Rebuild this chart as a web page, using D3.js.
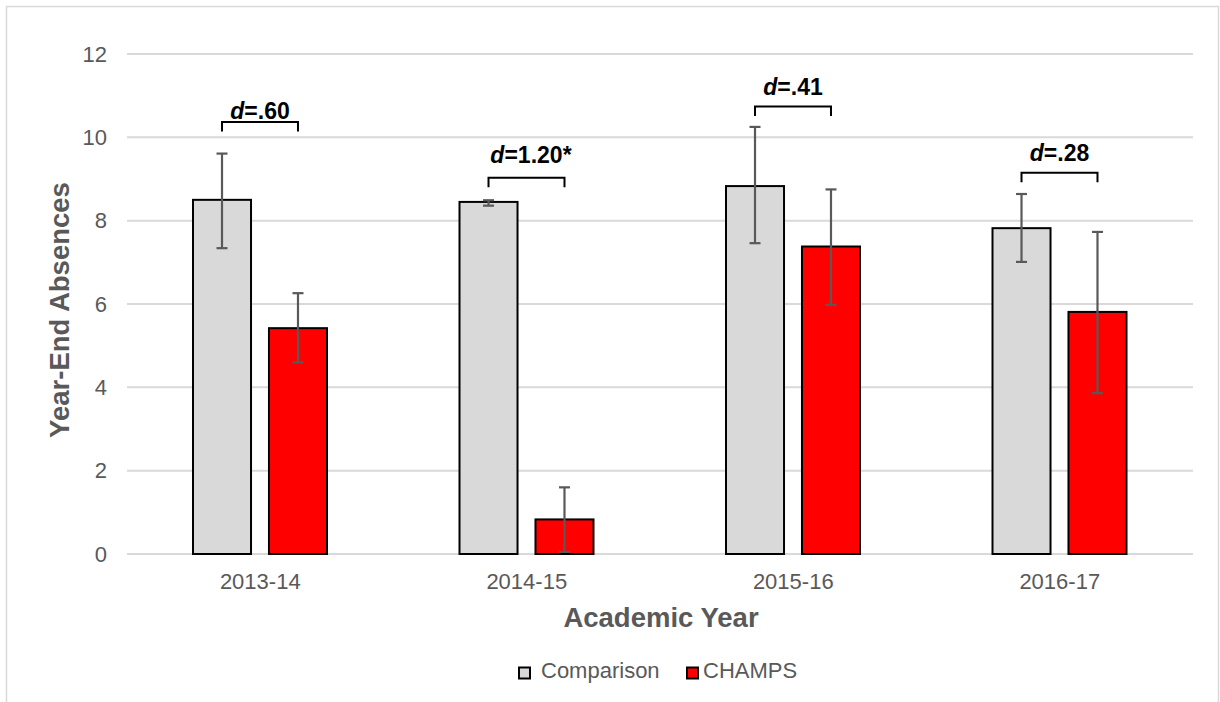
<!DOCTYPE html>
<html>
<head>
<meta charset="utf-8">
<script src="https://cdn.jsdelivr.net/npm/d3@7"></script>
<style>
  html, body { margin: 0; padding: 0; background: #fff; }
  svg { display: block; font-family: "Liberation Sans", Arial, sans-serif; }
</style>
</head>
<body>
<svg id="chart" width="1220" height="702"></svg>
<script>
// Academic years on the x axis
const years = ["2013-14", "2014-15", "2015-16", "2016-17"];
const seriesNames = ["Comparison", "CHAMPS"];
const seriesColors = ["#d9d9d9", "#ff0000"];

// Mean year-end absences with error-bar bounds
const comparisonMean = [8.50, 8.45, 8.83, 7.82];
const comparisonLow  = [7.34, 8.36, 7.46, 7.01];
const comparisonHigh = [9.61, 8.49, 10.25, 8.64];
const champsMean = [5.42, 0.83, 7.38, 5.81];
const champsLow  = [4.60, 0.05, 5.98, 3.86];
const champsHigh = [6.26, 1.60, 8.75, 7.73];

// Effect-size annotations (level in axis units for the bracket and the label)
const effectLabels = ["=.60", "=1.20", "=.41", "=.28"];
const effectStar = ["", "*", "", ""];
const bracketLevel = [10.37, 9.03, 10.74, 9.15];
const labelLevel = [10.44, 9.38, 11.02, 9.44];

const yTicks = [0, 2, 4, 6, 8, 10, 12];

const svg = d3.select("#chart");
const gray = "#595959";

// outer chart frame
svg.append("rect")
  .attr("x", 6.5).attr("y", 6.5).attr("width", 1212).attr("height", 740)
  .attr("fill", "none").attr("stroke", "#d9d9d9").attr("stroke-width", 1.5);

const y = d3.scaleLinear().domain([0, 12]).range([554, 54]);
const x0 = d3.scaleBand().domain(years).range([127, 1193]).paddingInner(0).paddingOuter(0);
const x1 = d3.scaleBand().domain(seriesNames).range([65, 201]).paddingInner(0.21);

// gridlines
svg.append("g").selectAll("line").data(yTicks).join("line")
  .attr("x1", 127).attr("x2", 1193)
  .attr("y1", d => y(d)).attr("y2", d => y(d))
  .attr("stroke", "#d9d9d9").attr("stroke-width", 2);

// y tick labels
svg.append("g").selectAll("text").data(yTicks).join("text")
  .attr("x", 107).attr("y", d => y(d))
  .attr("dy", "0.35em")
  .attr("text-anchor", "end")
  .attr("fill", gray).attr("font-size", 22)
  .text(d => d);

// x tick labels
svg.append("g").selectAll("text").data(years).join("text")
  .attr("x", d => x0(d) + x0.bandwidth() / 2).attr("y", 589)
  .attr("text-anchor", "middle")
  .attr("fill", gray).attr("font-size", 22)
  .text(d => d);

// bars and error bars
const rows = years.map((yr, i) => ({
  year: yr,
  vals: [
    { s: seriesNames[0], c: seriesColors[0], m: comparisonMean[i], lo: comparisonLow[i], hi: comparisonHigh[i] },
    { s: seriesNames[1], c: seriesColors[1], m: champsMean[i], lo: champsLow[i], hi: champsHigh[i] }
  ]
}));

const groups = svg.append("g").selectAll("g").data(rows).join("g")
  .attr("transform", d => `translate(${x0(d.year)},0)`);

groups.selectAll("rect").data(d => d.vals).join("rect")
  .attr("x", d => x1(d.s) + 1)
  .attr("width", x1.bandwidth() - 2)
  .attr("y", d => y(d.m))
  .attr("height", d => y(0) - y(d.m))
  .attr("fill", d => d.c)
  .attr("stroke", "#000").attr("stroke-width", 2);

const eb = groups.selectAll("g.err").data(d => d.vals).join("g").attr("class", "err");
eb.append("line")
  .attr("x1", d => x1(d.s) + x1.bandwidth() / 2).attr("x2", d => x1(d.s) + x1.bandwidth() / 2)
  .attr("y1", d => y(d.lo)).attr("y2", d => y(d.hi))
  .attr("stroke", gray).attr("stroke-width", 2.2);
["lo", "hi"].forEach(k => {
  eb.append("line")
    .attr("x1", d => x1(d.s) + x1.bandwidth() / 2 - 5.5).attr("x2", d => x1(d.s) + x1.bandwidth() / 2 + 5.5)
    .attr("y1", d => y(d[k])).attr("y2", d => y(d[k]))
    .attr("stroke", gray).attr("stroke-width", 2.2);
});

// effect-size brackets and labels
years.forEach((yr, i) => {
  const xa = x0(yr) + x1(seriesNames[0]) + x1.bandwidth() / 2;
  const xb = x0(yr) + x1(seriesNames[1]) + x1.bandwidth() / 2;
  const by = y(bracketLevel[i]);
  svg.append("path")
    .attr("d", `M${xa},${by + 9.5}V${by}H${xb}V${by + 9.5}`)
    .attr("fill", "none").attr("stroke", "#000").attr("stroke-width", 2);
  const cx = (xa + xb) / 2;
  const t = svg.append("text")
    .attr("x", cx).attr("y", y(labelLevel[i]))
    .attr("text-anchor", "middle")
    .attr("font-size", 23).attr("font-weight", "bold").attr("fill", "#000");
  t.append("tspan").attr("font-style", "italic").text("d");
  t.append("tspan").text(effectLabels[i]);
  if (effectStar[i]) {
    const w = t.node().getComputedTextLength();
    svg.append("text")
      .attr("x", cx + w / 2).attr("y", y(labelLevel[i]))
      .attr("font-size", 23).attr("font-weight", "bold").attr("fill", "#000")
      .text(effectStar[i]);
  }
});

// axis titles
svg.append("text")
  .attr("x", 661).attr("y", 627)
  .attr("text-anchor", "middle")
  .attr("font-size", 27.5).attr("font-weight", "bold").attr("fill", gray)
  .text("Academic Year");

svg.append("text")
  .attr("transform", "translate(69,310) rotate(-90)")
  .attr("text-anchor", "middle")
  .attr("font-size", 27.5).attr("font-weight", "bold").attr("fill", gray)
  .text("Year-End Absences");

// legend
const legendX = [518, 686];
const legendTextX = [541, 703];
seriesNames.forEach((s, i) => {
  svg.append("rect")
    .attr("x", legendX[i] + 1).attr("y", 667.5).attr("width", 11).attr("height", 11)
    .attr("fill", seriesColors[i]).attr("stroke", "#000").attr("stroke-width", 2);
  svg.append("text")
    .attr("x", legendTextX[i]).attr("y", 677.5)
    .attr("font-size", 22).attr("fill", gray)
    .text(s);
});
</script>
</body>
</html>
